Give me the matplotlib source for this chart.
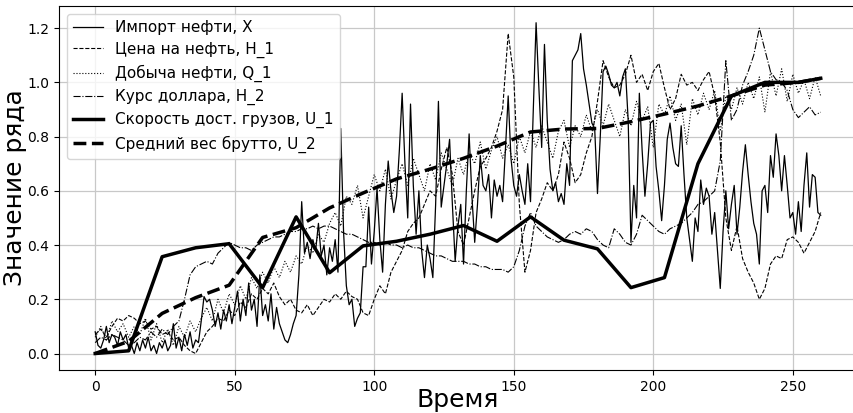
import numpy as np
import matplotlib
matplotlib.use("Agg")
import matplotlib.pyplot as plt

# Импорт нефти, X (every time step, t = 0..260)
import_x = [
    0.08, 0.03, 0.02, 0.05, 0.1, 0.04, 0.07, 0.06, 0.03, 0.08, 0.05, 0.07, 0.02,
    0.03, 0.0, 0.04, 0.01, 0.05, 0.02, 0.06, 0.01, 0.03, 0.0, 0.04, 0.02, 0.05,
    0.01, 0.03, 0.11, 0.02, 0.06, 0.01, 0.07, 0.03, 0.08, 0.02, 0.05, 0.04,
    0.12, 0.21, 0.19, 0.2, 0.16, 0.1, 0.15, 0.09, 0.16, 0.12,
    0.18, 0.11, 0.17, 0.23, 0.12, 0.2, 0.14, 0.26, 0.16, 0.2, 0.1, 0.29, 0.14,
    0.18, 0.12, 0.22, 0.09, 0.17, 0.11, 0.08, 0.05, 0.04, 0.07, 0.11, 0.14,
    0.29, 0.56, 0.37, 0.41, 0.35, 0.42, 0.38, 0.48, 0.36, 0.4, 0.29, 0.39,
    0.34, 0.42, 0.3, 0.83, 0.45, 0.25, 0.18, 0.2, 0.1, 0.13, 0.15, 0.32,
    0.32, 0.54, 0.33, 0.45, 0.61, 0.42, 0.3, 0.55, 0.71, 0.6, 0.52, 0.58, 0.75,
    0.96, 0.7, 0.5, 0.92, 0.62, 0.44, 0.6, 0.38, 0.28, 0.4, 0.35, 0.28, 0.55,
    0.93, 0.54, 0.62, 0.7, 0.79, 0.55, 0.34, 0.47, 0.55, 0.33, 0.6, 0.81, 0.58,
    0.41, 0.55, 0.73, 0.62, 0.6, 0.66, 0.5, 0.64, 0.58, 0.62,
    0.56, 0.75, 0.95, 0.72, 0.62, 0.58, 0.66, 0.6, 0.55, 0.7, 0.56, 0.9, 1.22,
    0.98, 0.76, 1.14, 0.86, 0.68, 0.6, 0.63, 0.56, 0.59, 0.55, 0.7, 0.62, 1.08,
    1.1, 1.12, 1.18, 1.05, 0.99, 0.92, 0.85, 0.83, 0.59, 0.8, 1.04, 1.06, 1.03,
    0.99, 0.98, 1.0, 0.95, 1.02, 1.05, 0.86, 0.41,
    0.62, 0.5, 0.96, 0.75, 0.58, 0.7, 0.85, 0.86, 0.69, 0.6, 0.49, 0.62, 0.79,
    0.85, 0.76, 0.7, 0.69, 0.84, 0.66, 0.5, 0.42, 0.34, 0.5, 0.45, 0.64, 0.55,
    0.61, 0.58, 0.44, 0.52, 0.38, 0.24, 0.45, 0.6, 0.46, 0.55, 0.62, 0.44, 0.54,
    0.67, 0.77, 0.66, 0.56, 0.48, 0.44, 0.33, 0.6, 0.62, 0.52,
    0.73, 0.65, 0.81, 0.73, 0.6, 0.73, 0.62, 0.5, 0.52, 0.44, 0.56, 0.45, 0.62,
    0.74, 0.54, 0.66, 0.65, 0.52, 0.51,
]

# Цена на нефть, H_1 (every 2nd step)
price_h1 = [
    0.07, 0.09, 0.06, 0.1, 0.13, 0.12, 0.14,
    0.13, 0.11, 0.12, 0.09, 0.1, 0.07, 0.08, 0.05, 0.06, 0.03, 0.01, 0.0,
    0.04, 0.08, 0.1, 0.13, 0.12, 0.16, 0.14, 0.19, 0.17, 0.22, 0.2, 0.24,
    0.22, 0.26, 0.21, 0.18, 0.2, 0.16, 0.15, 0.18, 0.14, 0.17, 0.2, 0.19,
    0.22, 0.2, 0.23, 0.21, 0.2, 0.15, 0.14, 0.2, 0.25, 0.22, 0.3, 0.34,
    0.38, 0.45, 0.48, 0.5, 0.55, 0.6, 0.58, 0.68, 0.76, 0.66, 0.45, 0.4,
    0.5, 0.6, 0.69, 0.72, 0.76, 0.82, 0.9, 1.18, 1.02, 0.55, 0.3, 0.38,
    0.52, 0.57, 0.63, 0.6, 0.66, 0.78, 0.72, 0.63, 0.66, 0.74, 0.8, 0.93,
    1.08, 1.02, 0.98, 0.99, 1.03, 1.1, 1.0, 1.03, 0.97, 1.04, 1.07, 0.98,
    0.9, 0.94, 1.03, 0.99, 1.0, 0.97, 1.01, 1.04, 0.95, 0.78, 0.5, 0.38,
    0.47, 0.35, 0.3, 0.26, 0.2, 0.24, 0.33, 0.36, 0.35, 0.42, 0.43, 0.41,
    0.37, 0.41, 0.45, 0.52,
]

# Добыча нефти, Q_1 (every 2nd step)
output_q1 = [
    0.06, 0.1, 0.05, 0.12, 0.08, 0.11, 0.06,
    0.1, 0.07, 0.13, 0.05, 0.11, 0.04, 0.09, 0.03, 0.1, 0.06, 0.12, 0.08,
    0.13, 0.17, 0.12, 0.2, 0.15, 0.22, 0.18, 0.25, 0.2, 0.28, 0.24, 0.3,
    0.26, 0.32, 0.28, 0.34, 0.3, 0.36, 0.33, 0.4, 0.37, 0.44, 0.41, 0.48,
    0.52, 0.47, 0.58, 0.55, 0.62, 0.5, 0.58, 0.66, 0.6, 0.68, 0.57, 0.64,
    0.7, 0.62, 0.72, 0.66, 0.6, 0.7, 0.64, 0.74, 0.68, 0.62, 0.72, 0.66,
    0.74, 0.7, 0.78, 0.68, 0.75, 0.8, 0.72, 0.77, 0.7, 0.8, 0.74, 0.82,
    0.76, 0.84, 0.78, 0.72, 0.82, 0.86, 0.76, 0.84, 0.8, 0.88, 0.82, 0.9,
    0.84, 0.92, 0.86, 0.8, 0.9, 0.84, 0.93, 0.86, 0.91, 0.76, 0.92, 0.88,
    0.95, 0.86, 0.92, 0.77, 0.94, 0.88, 0.96, 0.9, 0.97, 0.82, 0.95, 0.9,
    0.98, 0.92, 1.0, 0.94, 1.02, 0.89, 1.04, 0.95, 1.05, 0.93, 1.03, 0.96,
    1.01, 0.94, 1.02, 0.95,
]

# Курс доллара, H_2 (every 2nd step)
rate_h2 = [
    0.04, 0.06, 0.05, 0.07, 0.06, 0.05, 0.03,
    0.04, 0.06, 0.05, 0.08, 0.06, 0.09, 0.07, 0.1, 0.12, 0.2, 0.29, 0.32,
    0.33, 0.34, 0.33, 0.37, 0.39, 0.41, 0.4, 0.39, 0.39, 0.38, 0.4, 0.41,
    0.42, 0.43, 0.43, 0.44, 0.45, 0.45, 0.46, 0.46, 0.47, 0.46, 0.47, 0.47,
    0.46, 0.45, 0.44, 0.44, 0.43, 0.42, 0.41, 0.41, 0.4, 0.41, 0.4, 0.4,
    0.39, 0.4, 0.39, 0.39, 0.38, 0.37, 0.36, 0.36, 0.35, 0.34, 0.34, 0.34,
    0.33, 0.33, 0.32, 0.32, 0.31, 0.31, 0.31, 0.3, 0.32, 0.38, 0.47, 0.52,
    0.47, 0.45, 0.43, 0.42, 0.41, 0.42, 0.44, 0.45, 0.44, 0.46, 0.45, 0.42,
    0.4, 0.39, 0.46, 0.44, 0.41, 0.4, 0.44, 0.51, 0.49, 0.47, 0.45, 0.44,
    0.46, 0.47, 0.48, 0.5, 0.52, 0.55, 0.56, 0.58, 0.6, 0.71, 1.08, 0.86,
    0.9, 0.99, 1.04, 1.1, 1.2, 1.12, 1.04, 1.01, 1.0, 0.97, 0.9, 0.87,
    0.89, 0.91, 0.88, 0.89,
]

# Скорость доставки грузов, U_1 and Средний вес брутто, U_2 (yearly nodes)
t_u = [0, 12, 24, 36, 48, 60, 72, 84, 96, 108, 120, 132, 144, 156, 168,
       180, 192, 204, 216, 228, 240, 252, 260]
speed_u1 = [0.0, 0.01, 0.357, 0.39, 0.405, 0.243, 0.504, 0.298, 0.397, 0.414,
            0.44, 0.472, 0.414, 0.504, 0.418, 0.386, 0.243, 0.28, 0.70, 0.95,
            1.0, 1.0, 1.015]
weight_u2 = [0.0, 0.045, 0.148, 0.206, 0.252, 0.428, 0.464, 0.537, 0.592, 0.644,
             0.68, 0.72, 0.765, 0.817, 0.828, 0.83, 0.855, 0.883, 0.913, 0.95,
             0.99, 1.0, 1.015]

t_x = np.arange(len(import_x))
t_h1 = np.arange(len(price_h1)) * 2
t_q1 = np.arange(len(output_q1)) * 2
t_h2 = np.arange(len(rate_h2)) * 2

fig = plt.figure(figsize=(8.54, 4.13), dpi=100)
ax = fig.add_axes([0.069, 0.104, 0.9345, 0.881])

ax.plot(t_x, import_x, 'k-', lw=0.9, label="Импорт нефти, X")
ax.plot(t_h1, price_h1, 'k--', lw=0.8, label="Цена на нефть, H_1")
ax.plot(t_q1, output_q1, 'k:', lw=0.8, label="Добыча нефти, Q_1")
ax.plot(t_h2, rate_h2, 'k-.', lw=0.8, label="Курс доллара, H_2")
ax.plot(t_u, speed_u1, 'k-', lw=2.5, label="Скорость дост. грузов, U_1")
ax.plot(t_u, weight_u2, 'k--', lw=2.5, label="Средний вес брутто, U_2")

ax.grid(True, color='#c8c8c8', lw=0.9)
ax.set_axisbelow(True)
ax.tick_params(labelsize=10)
ax.set_xlabel("Время", fontsize=18, labelpad=-4)
ax.set_ylabel("Значение ряда", fontsize=18, labelpad=0)
ax.legend(loc='upper left', fontsize=11, labelspacing=0.45,
          borderaxespad=0.5)

fig.savefig("out.png", dpi=100)
